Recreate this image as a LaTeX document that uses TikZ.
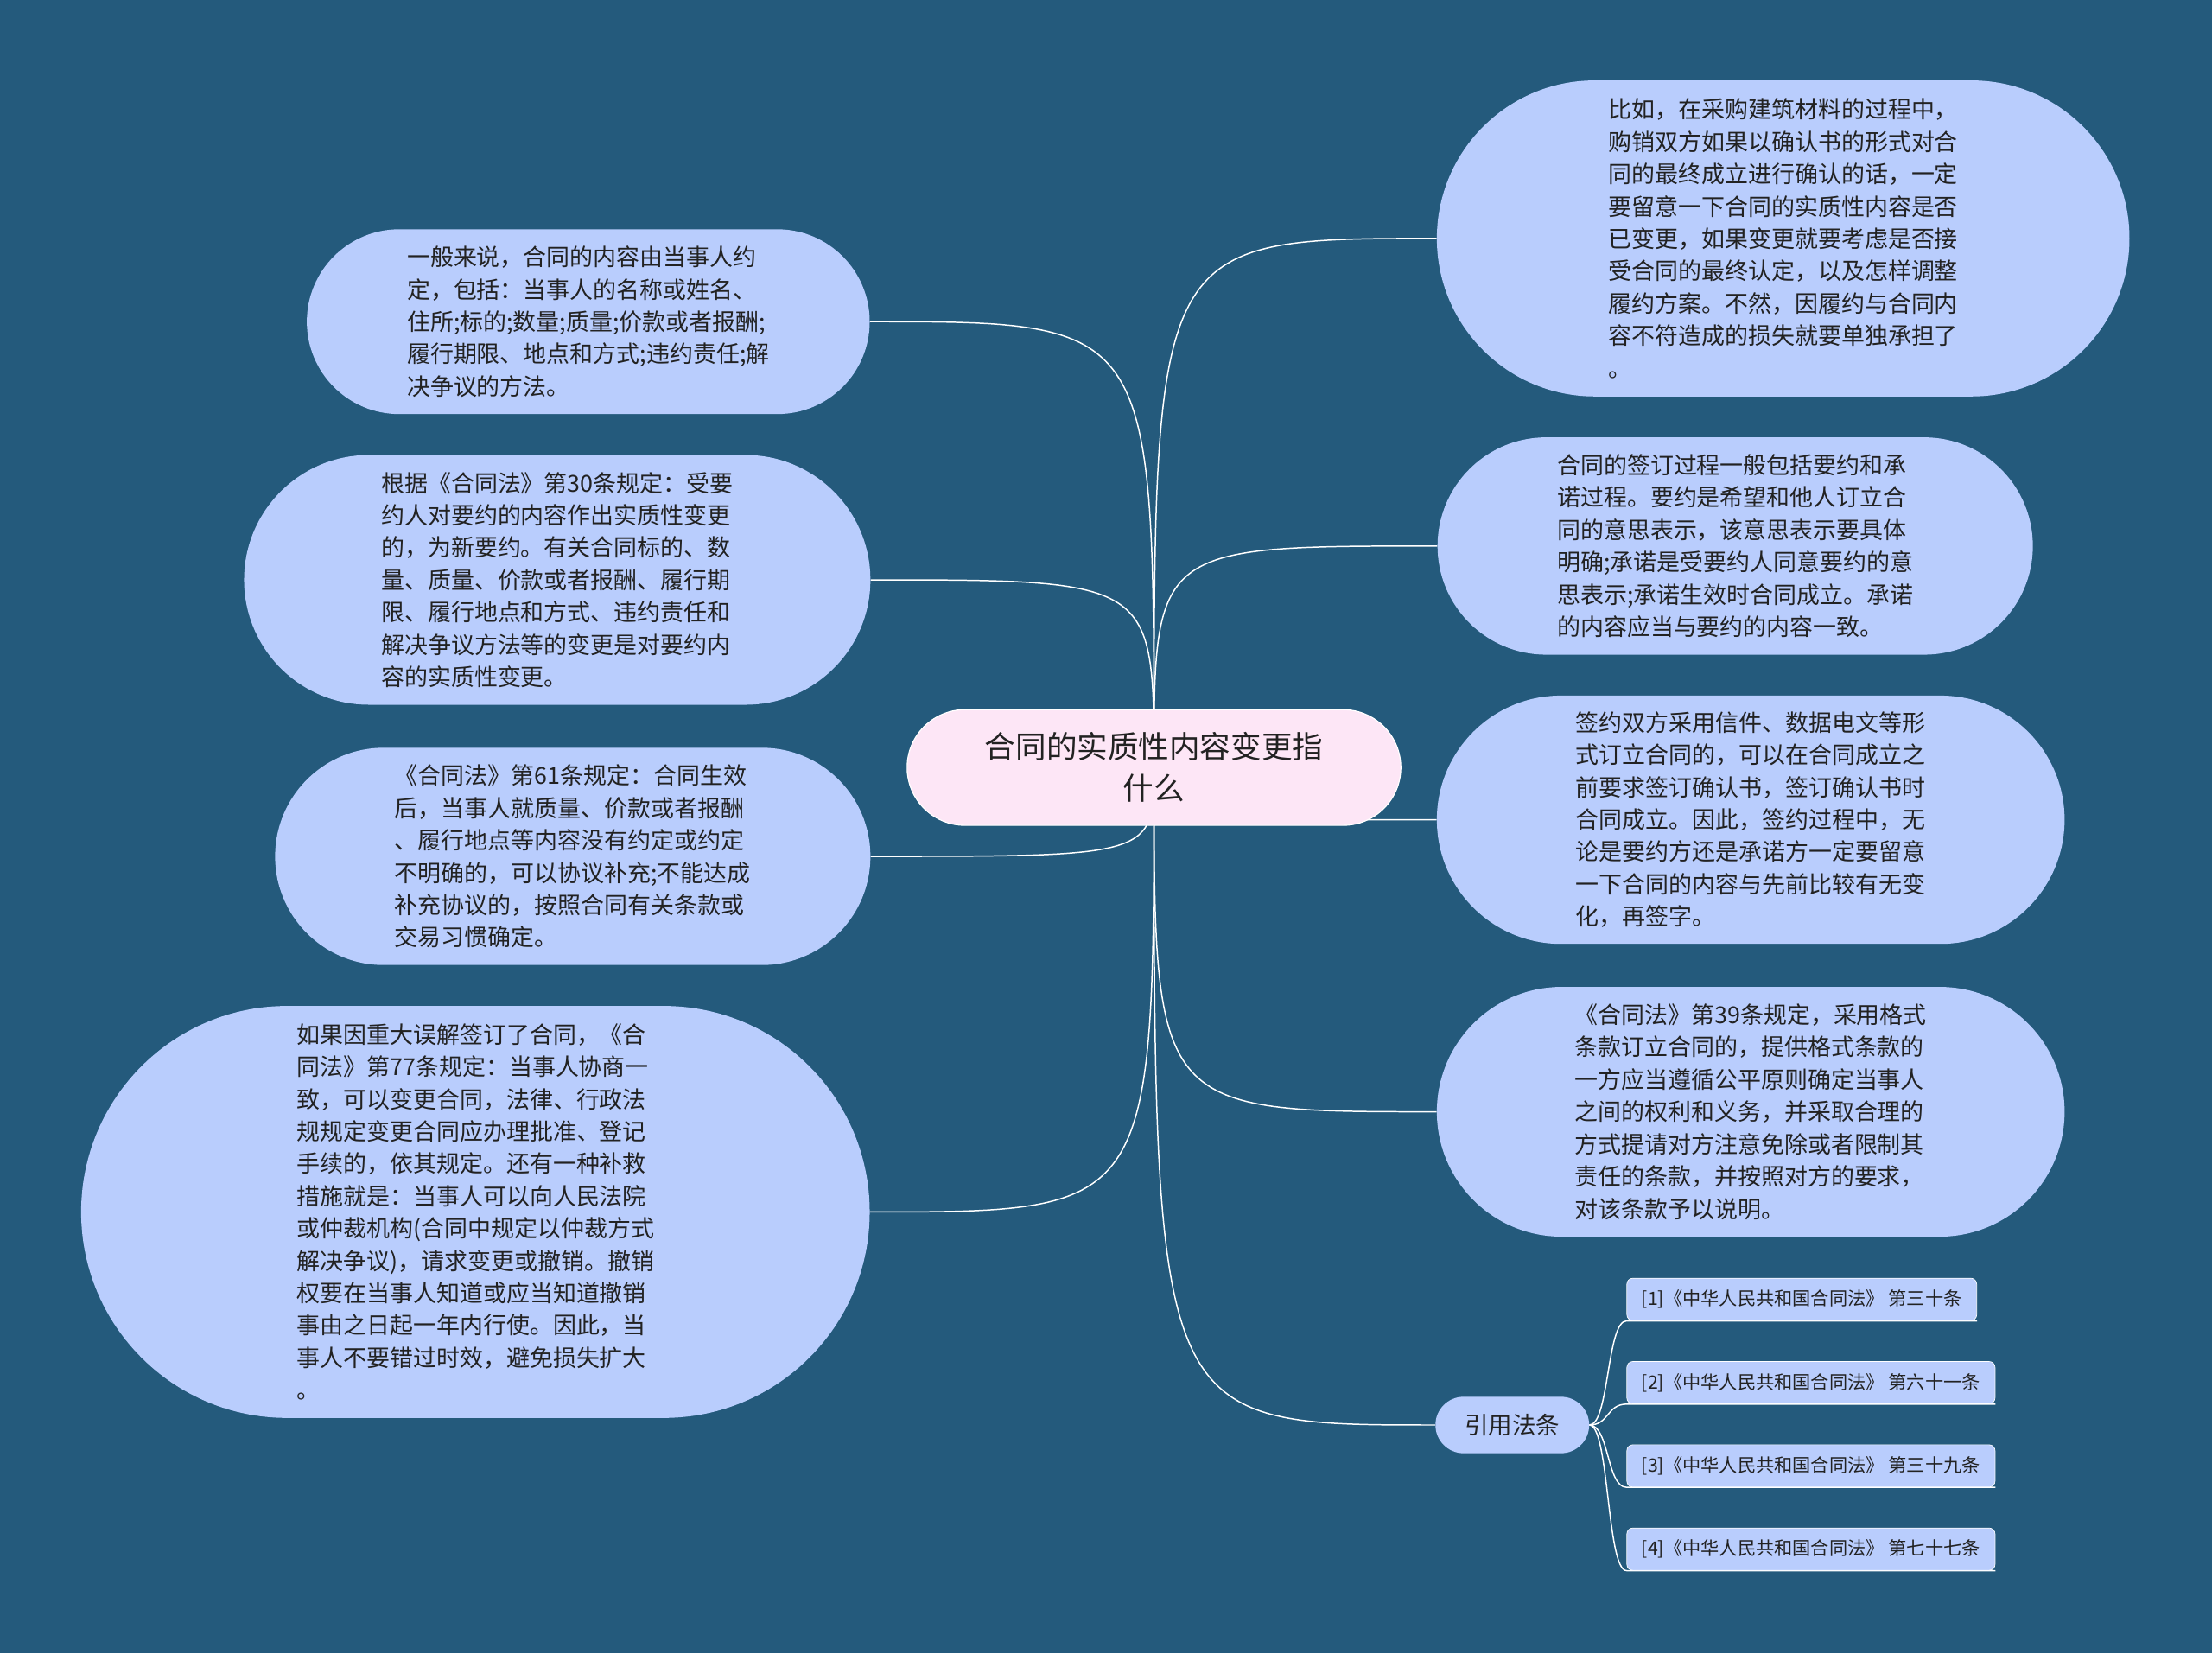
\documentclass[tikz,border=0pt]{standalone}
\usepackage{fontspec}
\setmainfont{Noto Sans CJK SC}
\usetikzlibrary{shapes.misc,backgrounds}
\definecolor{bg}{HTML}{245A7C}
\definecolor{nodefill}{HTML}{B9CDFD}
\definecolor{cfill}{HTML}{FDE6F6}
\definecolor{txt}{HTML}{222222}
\tikzset{
  leaf/.style={rounded rectangle, fill=nodefill, inner sep=0pt, align=left, text=txt,
    font=\fontsize{23.5}{32.6}\selectfont},
  ref/.style={rectangle, rounded corners=6pt, fill=nodefill, draw=white, line width=0.6pt, inner xsep=0.35cm, inner ysep=0pt, align=left, text=txt,
    font=\fontsize{18.5}{22}\selectfont, minimum height=1.5cm, anchor=west},
  link/.style={draw=white, line width=1.3pt}
}
\begin{document}
\begin{tikzpicture}[x=0.05cm,y=-0.05cm]
\node[leaf, fill=cfill, draw=white, line width=1pt, align=center, minimum width=17.5cm, minimum height=4.1cm, font=\fontsize{31}{42}\selectfont] (c) at (818,544) {合同的实质性内容变更指\\什么};
\node[leaf, minimum width=19.95cm, minimum height=6.55cm] (l1) at (417,228) {一般来说，合同的内容由当事人约\\定，包括：当事人的名称或姓名、\\住所;标的;数量;质量;价款或者报酬;\\履行期限、地点和方式;违约责任;解\\决争议的方法。};
\node[leaf, minimum width=22.2cm, minimum height=8.85cm] (l2) at (395,411) {根据《合同法》第30条规定：受要\\约人对要约的内容作出实质性变更\\的，为新要约。有关合同标的、数\\量、质量、价款或者报酬、履行期\\限、履行地点和方式、违约责任和\\解决争议方法等的变更是对要约内\\容的实质性变更。};
\node[leaf, minimum width=21.1cm, minimum height=7.7cm] (l3) at (406,607) {《合同法》第61条规定：合同生效\\后，当事人就质量、价款或者报酬\\、履行地点等内容没有约定或约定\\不明确的，可以协议补充;不能达成\\补充协议的，按照合同有关条款或\\交易习惯确定。};
\node[leaf, minimum width=27.95cm, minimum height=14.6cm] (l4) at (337,859) {如果因重大误解签订了合同，《合\\同法》第77条规定：当事人协商一\\致，可以变更合同，法律、行政法\\规规定变更合同应办理批准、登记\\手续的，依其规定。还有一种补救\\措施就是：当事人可以向人民法院\\或仲裁机构(合同中规定以仲裁方式\\解决争议)，请求变更或撤销。撤销\\权要在当事人知道或应当知道撤销\\事由之日起一年内行使。因此，当\\事人不要错过时效，避免损失扩大\\。};
\node[leaf, minimum width=24.55cm, minimum height=11.2cm] (r1) at (1264,169) {比如，在采购建筑材料的过程中，\\购销双方如果以确认书的形式对合\\同的最终成立进行确认的话，一定\\要留意一下合同的实质性内容是否\\已变更，如果变更就要考虑是否接\\受合同的最终认定，以及怎样调整\\履约方案。不然，因履约与合同内\\容不符造成的损失就要单独承担了\\。};
\node[leaf, minimum width=21.1cm, minimum height=7.7cm] (r2) at (1230,387) {合同的签订过程一般包括要约和承\\诺过程。要约是希望和他人订立合\\同的意思表示，该意思表示要具体\\明确;承诺是受要约人同意要约的意\\思表示;承诺生效时合同成立。承诺\\的内容应当与要约的内容一致。};
\node[leaf, minimum width=22.25cm, minimum height=8.8cm] (r3) at (1241,581) {签约双方采用信件、数据电文等形\\式订立合同的，可以在合同成立之\\前要求签订确认书，签订确认书时\\合同成立。因此，签约过程中，无\\论是要约方还是承诺方一定要留意\\一下合同的内容与先前比较有无变\\化，再签字。};
\node[leaf, minimum width=22.25cm, minimum height=8.85cm] (r4) at (1241,788) {《合同法》第39条规定，采用格式\\条款订立合同的，提供格式条款的\\一方应当遵循公平原则确定当事人\\之间的权利和义务，并采取合理的\\方式提请对方注意免除或者限制其\\责任的条款，并按照对方的要求，\\对该条款予以说明。};
\node[leaf, minimum width=5.45cm, minimum height=2cm, font=\fontsize{24}{30}\selectfont] (y) at (1072,1010) {引用法条};
\node[ref, minimum width=12.4cm] (f1) at (1153,921) {[1]《中华人民共和国合同法》 第三十条};
\node[ref, minimum width=13.05cm] (f2) at (1153,980) {[2]《中华人民共和国合同法》 第六十一条};
\node[ref, minimum width=13.05cm] (f3) at (1153,1039) {[3]《中华人民共和国合同法》 第三十九条};
\node[ref, minimum width=13.05cm] (f4) at (1153,1098) {[4]《中华人民共和国合同法》 第七十七条};
\begin{scope}[on background layer]
\fill[bg] (0,0) rectangle (1568,1172);
\foreach \n in {l1,l2,l3,l4}
  \draw[link] (c.center) .. controls (c.center |- \n.east) .. (\n.east);
\foreach \n in {r1,r2,r3,r4}
  \draw[link] (c.center) .. controls (c.center |- \n.west) .. (\n.west);
\draw[link] (c.center) .. controls (818,1010) .. (y.west);
\foreach \n in {f1,f2,f3,f4}
  \draw[link] (y.east) .. controls ([xshift=20]y.east) and ([xshift=-20]\n.south west) .. (\n.south west) -- (\n.south east);
\end{scope}
\useasboundingbox (0,0) rectangle (1568,1172);
\end{tikzpicture}
\end{document}
